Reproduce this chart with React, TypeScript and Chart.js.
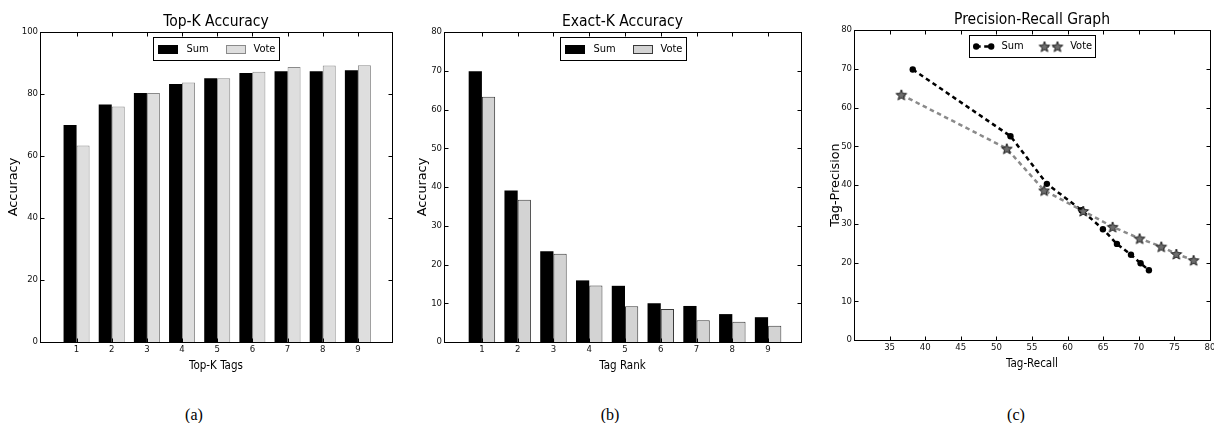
import React, { useEffect, useRef } from 'react';
import { Chart, registerables } from 'chart.js';

Chart.register(...registerables);

// ---------------- data ----------------
const tagRanks = [1, 2, 3, 4, 5, 6, 7, 8, 9];
const seriesNames = ['Sum', 'Vote'];

const topKSum = [70.0, 76.6, 80.3, 83.2, 85.1, 86.8, 87.3, 87.3, 87.7];
const topKVote = [63.4, 76.0, 80.3, 83.7, 85.1, 87.2, 88.7, 89.2, 89.3];

const exactKSum = [69.9, 39.1, 23.4, 15.9, 14.5, 10.0, 9.3, 7.2, 6.4];
const exactKVote = [63.3, 36.7, 22.8, 14.6, 9.2, 8.5, 5.6, 5.2, 4.2];

const prSumRecall = [38.25, 51.98, 57.09, 61.96, 64.96, 66.93, 68.9, 70.25, 71.42];
const prSumPrecision = [69.8, 52.6, 40.3, 33.5, 28.6, 24.8, 22.0, 19.8, 18.0];
const prVoteRecall = [36.65, 51.46, 56.71, 62.19, 66.32, 70.11, 73.16, 75.27, 77.7];
const prVotePrecision = [63.3, 49.4, 38.6, 33.3, 29.2, 26.2, 24.1, 22.2, 20.6];

const topKYTicks = [0, 20, 40, 60, 80, 100];
const exactKYTicks = [0, 10, 20, 30, 40, 50, 60, 70, 80];
const prXTicks = [35, 40, 45, 50, 55, 60, 65, 70, 75, 80];
const prYTicks = [0, 10, 20, 30, 40, 50, 60, 70, 80];

const captions = ['(a)', '(b)', '(c)'];

// ---------------- helpers ----------------
const COND = 'DejaVu Sans Condensed';
const SANS = 'DejaVu Sans';

function makeStar(outer: number, inner: number, fill: string, stroke: string) {
  const size = Math.ceil(outer * 2 + 4);
  const c = document.createElement('canvas');
  c.width = size;
  c.height = size;
  const ctx = c.getContext('2d')!;
  const cx = size / 2;
  const cy = size / 2 + 0.6;
  ctx.beginPath();
  for (let i = 0; i < 10; i++) {
    const r = i % 2 === 0 ? outer : inner;
    const a = -Math.PI / 2 + (i * Math.PI) / 5;
    const x = cx + r * Math.cos(a);
    const y = cy + r * Math.sin(a);
    if (i === 0) ctx.moveTo(x, y);
    else ctx.lineTo(x, y);
  }
  ctx.closePath();
  ctx.fillStyle = fill;
  ctx.fill();
  ctx.lineWidth = 1;
  ctx.strokeStyle = stroke;
  ctx.stroke();
  return c;
}

function framePlugin(xTicks: number[], yTicks: number[]) {
  return {
    id: 'frame',
    afterDatasetsDraw(chart: any) {
      const { ctx, chartArea, scales } = chart;
      const l = Math.round(chartArea.left) + 0.5;
      const r = Math.round(chartArea.right) + 0.5;
      const t = Math.round(chartArea.top) + 0.5;
      const b = Math.round(chartArea.bottom) + 0.5;
      ctx.save();
      ctx.strokeStyle = '#000';
      ctx.lineWidth = 1;
      ctx.setLineDash([]);
      ctx.strokeRect(l, t, r - l, b - t);
      ctx.beginPath();
      xTicks.forEach((v) => {
        const px = Math.round(scales.x.getPixelForValue(v)) + 0.5;
        ctx.moveTo(px, b);
        ctx.lineTo(px, b - 4);
        ctx.moveTo(px, t);
        ctx.lineTo(px, t + 4);
      });
      yTicks.forEach((v) => {
        const py = Math.round(scales.y.getPixelForValue(v)) + 0.5;
        ctx.moveTo(l, py);
        ctx.lineTo(l + 4, py);
        ctx.moveTo(r, py);
        ctx.lineTo(r - 4, py);
      });
      ctx.stroke();
      ctx.restore();
    },
  };
}

function barLegendPlugin(width: number, handleX: number[], textX: number[]) {
  return {
    id: 'boxLegend',
    afterDraw(chart: any) {
      const { ctx, chartArea } = chart;
      const cx = (chartArea.left + chartArea.right) / 2;
      const x0 = Math.round(cx - width / 2) + 0.5;
      const y0 = Math.round(chartArea.top + 5) + 0.5;
      const h = 23;
      const cy = y0 + h / 2;
      ctx.save();
      ctx.fillStyle = '#fff';
      ctx.fillRect(x0, y0, width, h);
      ctx.strokeStyle = '#000';
      ctx.lineWidth = 1;
      ctx.strokeRect(x0, y0, width, h);
      ctx.font = `11px "${COND}"`;
      ctx.textBaseline = 'middle';
      chart.data.datasets.forEach((ds: any, i: number) => {
        const sx = Math.round(x0 + handleX[i]);
        const sy = Math.round(cy - 4.5);
        ctx.fillStyle = ds.backgroundColor;
        ctx.fillRect(sx, sy, 20, 9);
        if (ds.borderWidth) {
          ctx.strokeStyle = ds.borderColor;
          ctx.strokeRect(sx + 0.5, sy + 0.5, 19, 8);
        }
        ctx.fillStyle = '#000';
        ctx.fillText(ds.label, x0 + textX[i], cy);
      });
      ctx.restore();
    },
  };
}

function lineLegendPlugin(width: number, handleX: number[][], textX: number[]) {
  return {
    id: 'boxLegend',
    afterDraw(chart: any) {
      const { ctx, chartArea } = chart;
      const cx = (chartArea.left + chartArea.right) / 2;
      const x0 = Math.round(cx - width / 2) + 0.5;
      const y0 = Math.round(chartArea.top + 5) + 0.5;
      const h = 22;
      const cy = y0 + h / 2;
      ctx.save();
      ctx.fillStyle = '#fff';
      ctx.fillRect(x0, y0, width, h);
      ctx.strokeStyle = '#000';
      ctx.lineWidth = 1;
      ctx.strokeRect(x0, y0, width, h);
      ctx.font = `11px "${COND}"`;
      ctx.textBaseline = 'middle';
      chart.data.datasets.forEach((ds: any, i: number) => {
        const [a, b] = handleX[i];
        ctx.save();
        ctx.strokeStyle = ds.borderColor;
        ctx.lineWidth = ds.borderWidth;
        ctx.setLineDash(ds.borderDash || []);
        ctx.beginPath();
        ctx.moveTo(x0 + a, cy);
        ctx.lineTo(x0 + b, cy);
        ctx.stroke();
        ctx.restore();
        [a, b].forEach((hx) => {
          const px = x0 + hx;
          if (typeof ds.pointStyle === 'object' && ds.pointStyle) {
            const img = ds.pointStyle as HTMLCanvasElement;
            ctx.drawImage(img, px - img.width / 2, cy - img.height / 2);
          } else {
            ctx.beginPath();
            ctx.fillStyle = ds.pointBackgroundColor;
            ctx.arc(px, cy, ds.pointRadius, 0, Math.PI * 2);
            ctx.fill();
          }
        });
        ctx.fillStyle = '#000';
        ctx.fillText(ds.label, x0 + textX[i], cy);
      });
      ctx.restore();
    },
  };
}

const tickFont = { family: COND, size: 9.5 };

function scaleBase(values: number[], min: number, max: number, extra: any) {
  return {
    type: 'linear',
    min,
    max,
    offset: false,
    afterBuildTicks: (s: any) => {
      s.ticks = values.map((v) => ({ value: v }));
    },
    grid: { display: false, drawTicks: false },
    border: { display: false },
    ticks: {
      autoSkip: false,
      maxRotation: 0,
      minRotation: 0,
      color: '#111',
      font: tickFont,
      padding: 2,
      callback: (v: any) => String(v),
    },
    ...extra,
  };
}

function commonOptions(title: string, padRight: number) {
  return {
    animation: false,
    responsive: false,
    maintainAspectRatio: false,
    devicePixelRatio: 1,
    layout: { padding: { left: 0, right: padRight, top: 0, bottom: 0 } },
    plugins: {
      legend: { display: false },
      tooltip: { enabled: false },
      title: {
        display: true,
        text: title,
        fullSize: false,
        color: '#000',
        font: { family: COND, size: 15.5, weight: 'normal' },
        padding: { top: 12.7, bottom: 0.7 },
      },
    },
  };
}

function xAxis(values: number[], min: number, max: number, title: string) {
  return scaleBase(values, min, max, {
    position: 'bottom',
    title: {
      display: true,
      text: title,
      color: '#000',
      font: { family: COND, size: 11.5 },
      padding: { top: 0, bottom: 6.8 },
    },
    afterFit: (s: any) => {
      s.height = 38;
    },
  });
}

function yAxis(values: number[], min: number, max: number, title: string, titlePad: number) {
  return scaleBase(values, min, max, {
    position: 'left',
    title: {
      display: true,
      text: title,
      color: '#000',
      font: { family: SANS, size: 12.8 },
      padding: { top: titlePad, bottom: 0 },
    },
    afterFit: (s: any) => {
      s.width = 40;
    },
  });
}

function barChart(
  canvas: HTMLCanvasElement,
  title: string,
  xTitle: string,
  yTitle: string,
  sum: number[],
  vote: number[],
  yTicks: number[],
  yMax: number,
  xMin: number,
  xMax: number,
  padRight: number,
  yTitlePad: number,
  voteFill: string,
  voteBorder: string
) {
  const opts: any = commonOptions(title, padRight);
  opts.scales = {
    x: xAxis(tagRanks, xMin, xMax, xTitle),
    y: yAxis(yTicks, 0, yMax, yTitle, yTitlePad),
  };
  return new Chart(canvas, {
    type: 'bar',
    data: {
      datasets: [
        {
          label: seriesNames[0],
          data: tagRanks.map((x, i) => ({ x, y: sum[i] })),
          backgroundColor: '#000000',
          borderColor: '#000000',
          borderWidth: 0,
          categoryPercentage: 0.74,
          barPercentage: 1,
        },
        {
          label: seriesNames[1],
          data: tagRanks.map((x, i) => ({ x, y: vote[i] })),
          backgroundColor: voteFill,
          borderColor: voteBorder,
          borderWidth: 1,
          categoryPercentage: 0.74,
          barPercentage: 1,
        },
      ],
    } as any,
    options: opts,
    plugins: [framePlugin(tagRanks, yTicks), barLegendPlugin(126, [4, 72], [33, 100])],
  });
}

function prChart(canvas: HTMLCanvasElement) {
  const star = makeStar(5.6, 2.4, '#6e6e6e', '#1a1a1a');
  const opts: any = commonOptions('Precision-Recall Graph', 24);
  opts.scales = {
    x: xAxis(prXTicks, 30, 80, 'Tag-Recall'),
    y: yAxis(prYTicks, 0, 80, 'Tag-Precision', 13.6),
  };
  return new Chart(canvas, {
    type: 'scatter',
    data: {
      datasets: [
        {
          label: seriesNames[0],
          data: prSumRecall.map((x, i) => ({ x, y: prSumPrecision[i] })),
          showLine: true,
          borderColor: '#000000',
          borderWidth: 2.5,
          borderDash: [4.5, 3.5],
          pointStyle: 'circle',
          pointRadius: 3.2,
          pointBorderWidth: 0,
          pointBackgroundColor: '#000000',
          order: 1,
        },
        {
          label: seriesNames[1],
          data: prVoteRecall.map((x, i) => ({ x, y: prVotePrecision[i] })),
          showLine: true,
          borderColor: '#8a8a8a',
          borderWidth: 2.5,
          borderDash: [4.5, 3.5],
          pointStyle: star,
          pointRadius: 5,
          pointBorderWidth: 0,
          pointBackgroundColor: '#6e6e6e',
          order: 0,
        },
      ],
    } as any,
    options: opts,
    plugins: [framePlugin(prXTicks, prYTicks), lineLegendPlugin(126, [[6.7, 21.7], [75, 88]], [32, 100.7])],
  });
}

function ChartBox(props: {
  left: number;
  top: number;
  width: number;
  height: number;
  make: (c: HTMLCanvasElement) => Chart;
}) {
  const ref = useRef<HTMLCanvasElement>(null);
  useEffect(() => {
    if (!ref.current) return;
    const chart = props.make(ref.current);
    return () => chart.destroy();
  }, []);
  return (
    <div style={{ position: 'absolute', left: props.left, top: props.top, width: props.width, height: props.height }}>
      <canvas
        ref={ref}
        width={props.width}
        height={props.height}
        style={{ display: 'block', width: props.width, height: props.height }}
      />
    </div>
  );
}

const captionCenters = [194, 610, 1016];

export default function App() {
  return (
    <div
      style={{
        position: 'fixed',
        left: 0,
        top: 0,
        width: 1214,
        height: 423,
        overflow: 'hidden',
        background: '#ffffff',
      }}
    >
      <ChartBox
        left={0}
        top={0}
        width={410}
        height={380}
        make={(c) =>
          barChart(c, 'Top-K Accuracy', 'Top-K Tags', 'Accuracy', topKSum, topKVote, topKYTicks, 100, -0.04, 9.97, 18, 6.3, '#dedede', '#8a8a8a')
        }
      />
      <ChartBox
        left={404}
        top={0}
        width={410}
        height={380}
        make={(c) =>
          barChart(c, 'Exact-K Accuracy', 'Tag Rank', 'Accuracy', exactKSum, exactKVote, exactKYTicks, 80, -0.06, 9.92, 13, 11.3, '#d3d3d3', '#3a3a3a')
        }
      />
      <ChartBox left={814} top={-2} width={420} height={380} make={(c) => prChart(c)} />
      {captions.map((t, i) => (
        <div
          key={t}
          style={{
            position: 'absolute',
            left: captionCenters[i] - 30,
            width: 60,
            top: 405,
            height: 20,
            lineHeight: '20px',
            textAlign: 'center',
            fontFamily: '"Liberation Serif", serif',
            fontSize: 16,
            color: '#000',
          }}
        >
          {t}
        </div>
      ))}
    </div>
  );
}
